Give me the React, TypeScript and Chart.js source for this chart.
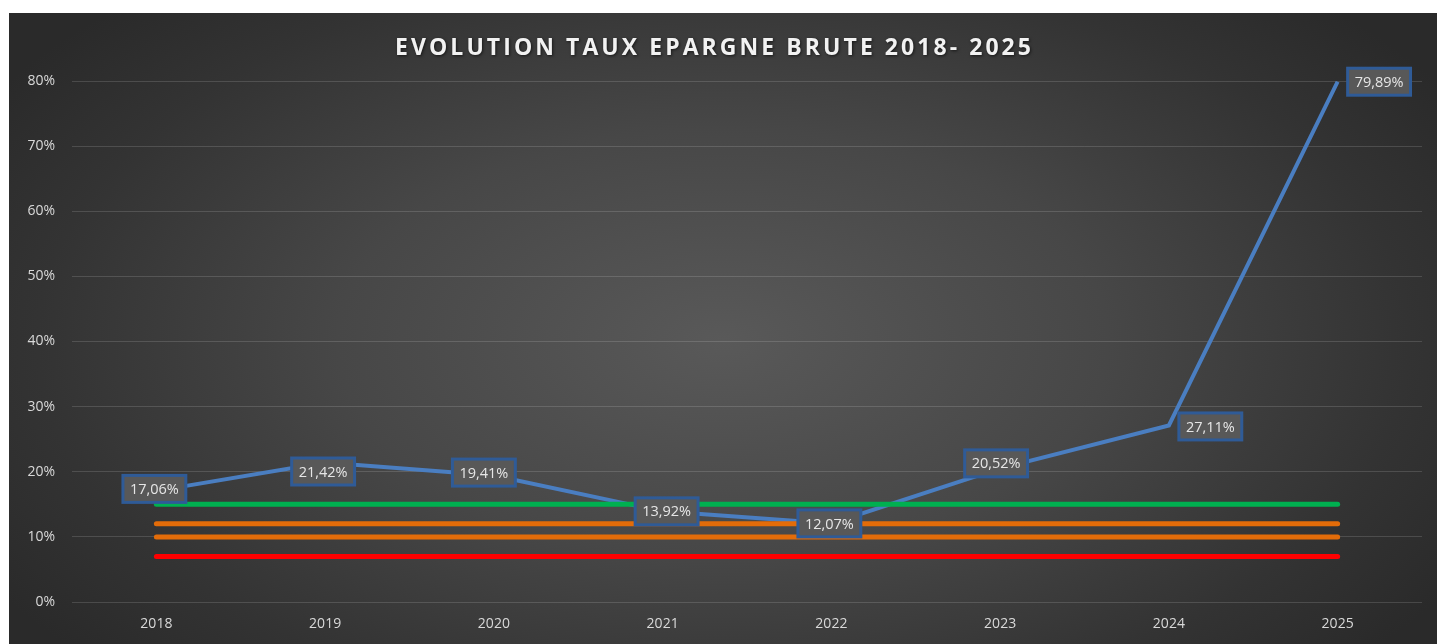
import React, { useEffect, useRef } from "react";
import { Chart, registerables } from "chart.js";

Chart.register(...registerables);

const categories = ["2018", "2019", "2020", "2021", "2022", "2023", "2024", "2025"];
const tauxEpargne = [17.06, 21.42, 19.41, 13.92, 12.07, 20.52, 27.11, 79.89];
const seuilVert = [15, 15, 15, 15, 15, 15, 15, 15];
const seuilOrangeHaut = [12, 12, 12, 12, 12, 12, 12, 12];
const seuilOrangeBas = [10, 10, 10, 10, 10, 10, 10, 10];
const seuilRouge = [7, 7, 7, 7, 7, 7, 7, 7];
const yTicks = [0, 10, 20, 30, 40, 50, 60, 70, 80];
const titleText = "EVOLUTION TAUX EPARGNE BRUTE 2018- 2025";

// label placement styling (not data)
const labelPlacement = ["center", "center", "center", "center", "center", "center", "right", "right"];
const labelShiftX = [-2, -2, -10, 4, -2, -4, 0, 0];
const labelShiftY = [-2, 9, -3, 0, 0, -5, 1, 0];

const W = 1428;
const H = 631;

const fmt = (v: number) => v.toFixed(2).replace(".", ",") + "%";

const titlePlugin = {
  id: "customTitle",
  afterDraw(chart: any) {
    const ctx = chart.ctx;
    ctx.save();
    ctx.font = "bold 23px 'Open Sans'";
    const target = 636;
    const n = titleText.length;
    const measured = ctx.measureText(titleText).width;
    const spacing = (target - measured) / (n - 1);
    (ctx as any).letterSpacing = spacing.toFixed(2) + "px";
    ctx.textAlign = "center";
    ctx.textBaseline = "middle";
    ctx.shadowColor = "rgba(0,0,0,0.6)";
    ctx.shadowBlur = 3;
    ctx.shadowOffsetX = 1;
    ctx.shadowOffsetY = 1;
    ctx.fillStyle = "#f2f2f2";
    ctx.fillText(titleText, 704 + spacing / 2, 35);
    ctx.restore();
  },
};

const labelsPlugin = {
  id: "valueLabels",
  afterDatasetsDraw(chart: any) {
    const ctx = chart.ctx;
    const meta = chart.getDatasetMeta(0);
    ctx.save();
    ctx.font = "14.5px 'Open Sans'";
    meta.data.forEach((pt: any, i: number) => {
      const text = fmt(tauxEpargne[i]);
      const tw = ctx.measureText(text).width;
      const bw = tw + 14;
      const bh = 27;
      let cx = pt.x + labelShiftX[i];
      const cy = pt.y + labelShiftY[i];
      if (labelPlacement[i] === "right") cx = pt.x + 10 + bw / 2;
      const x0 = cx - bw / 2;
      const y0 = cy - bh / 2;
      ctx.fillStyle = "#585858";
      ctx.fillRect(x0, y0, bw, bh);
      ctx.strokeStyle = "#2F5B97";
      ctx.lineWidth = 3;
      ctx.strokeRect(x0, y0, bw, bh);
      ctx.fillStyle = "#e6e6e6";
      ctx.textAlign = "center";
      ctx.textBaseline = "middle";
      ctx.fillText(text, cx, cy + 1);
    });
    ctx.restore();
  },
};

export default function App() {
  const ref = useRef<HTMLCanvasElement | null>(null);

  useEffect(() => {
    if (!ref.current) return;
    const thresholdStyle = (color: string) => ({
      borderColor: color,
      backgroundColor: color,
      borderWidth: 5,
      borderCapStyle: "round" as const,
      pointRadius: 0,
      fill: false,
      order: 1,
    });
    const chart = new Chart(ref.current, {
      type: "line",
      data: {
        labels: categories,
        datasets: [
          {
            label: "Taux d'épargne brute",
            data: tauxEpargne,
            borderColor: "#4A7EC1",
            backgroundColor: "#4A7EC1",
            borderWidth: 4,
            pointRadius: 0,
            tension: 0,
            fill: false,
            order: 2,
          },
          { label: "Seuil 15%", data: seuilVert, ...thresholdStyle("#00B050") },
          { label: "Seuil 12%", data: seuilOrangeHaut, ...thresholdStyle("#E36C09") },
          { label: "Seuil 10%", data: seuilOrangeBas, ...thresholdStyle("#E36C09") },
          { label: "Seuil 7%", data: seuilRouge, ...thresholdStyle("#FF0000") },
        ],
      },
      options: {
        responsive: false,
        animation: false,
        layout: { padding: { top: 68, right: 15, left: 0, bottom: 0 } },
        plugins: {
          legend: { display: false },
          tooltip: { enabled: false },
          title: { display: false },
        },
        scales: {
          x: {
            offset: true,
            grid: { display: false, drawTicks: false },
            border: { display: false },
            ticks: {
              color: "#d9d9d9",
              font: { family: "'Open Sans'", size: 14 },
              padding: 14,
              maxRotation: 0,
            },
            afterFit: (scale: any) => {
              scale.height = 42;
            },
          },
          y: {
            min: 0,
            max: 80,
            afterBuildTicks: (scale: any) => {
              scale.ticks = yTicks.map((v) => ({ value: v }));
            },
            grid: { color: "rgba(255,255,255,0.14)", lineWidth: 1, drawTicks: false },
            border: { display: false },
            ticks: {
              color: "#d9d9d9",
              font: { family: "'Open Sans'", size: 14 },
              padding: 17,
              callback: (v: any) => v + "%",
            },
            afterFit: (scale: any) => {
              scale.width = 63;
            },
          },
        },
      },
      plugins: [titlePlugin, labelsPlugin],
    });
    return () => chart.destroy();
  }, []);

  return (
    <div
      style={{
        position: "fixed",
        left: 9,
        top: 13,
        width: W,
        height: H,
        background:
          "radial-gradient(ellipse 60% 75% at 50% 52%, #595959 0%, #474747 45%, #333333 80%, #2a2a2a 100%)",
      }}
    >
      <canvas ref={ref} width={W} height={H} style={{ display: "block" }} />
    </div>
  );
}
